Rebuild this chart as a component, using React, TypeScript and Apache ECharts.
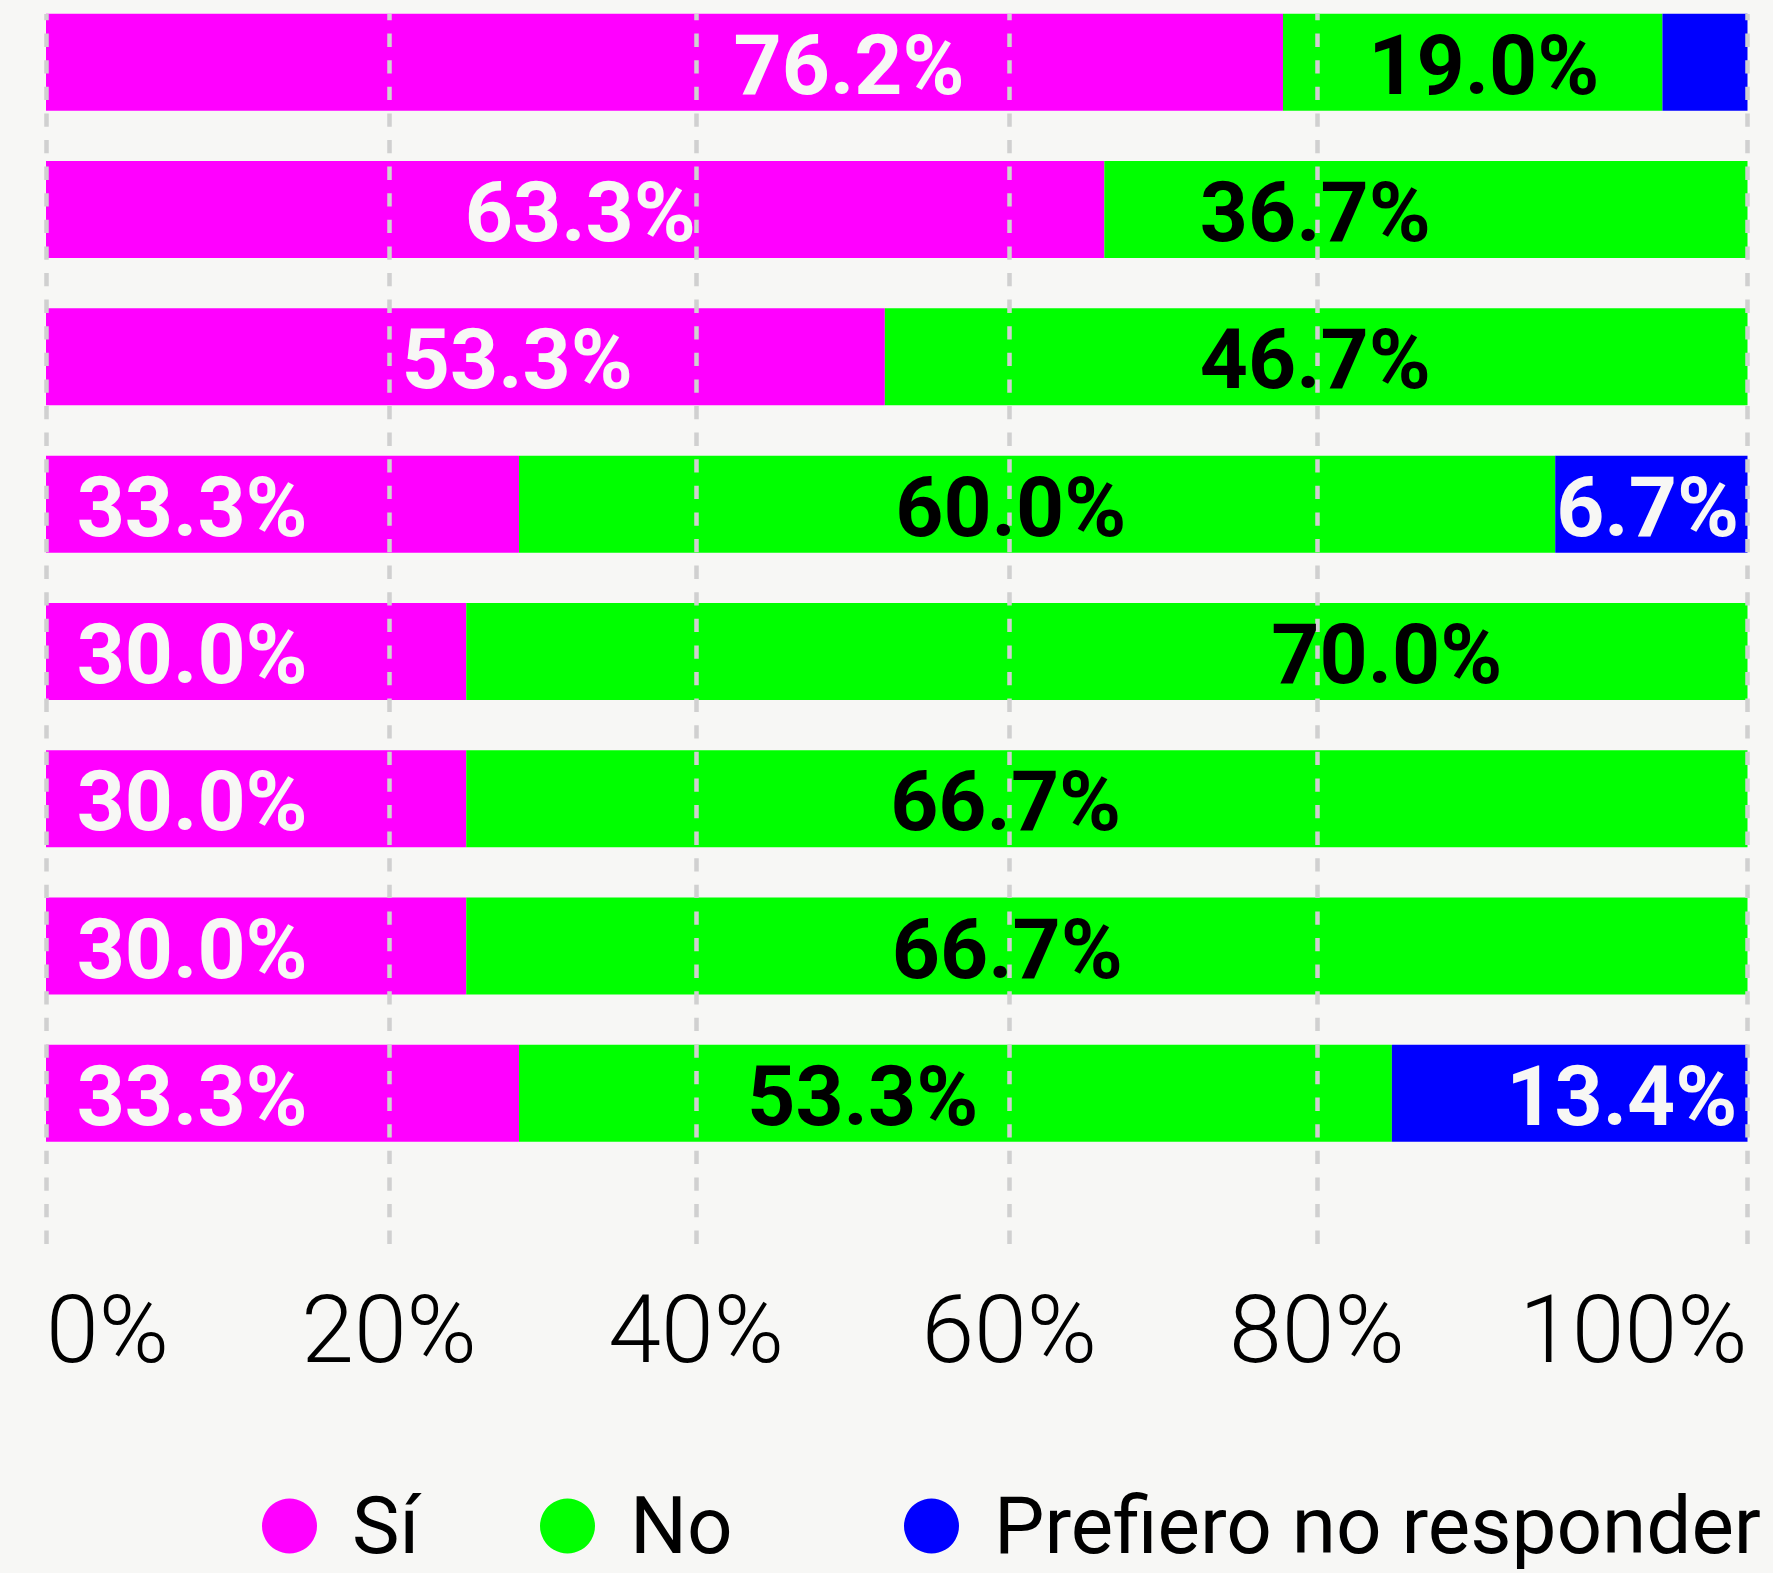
import React, { useEffect, useRef } from "react";
import * as echarts from "echarts";

// ---- data ----
const categories = ["Fila 1", "Fila 2", "Fila 3", "Fila 4", "Fila 5", "Fila 6", "Fila 7", "Fila 8"];
const seriesNames = ["Sí", "No", "Prefiero no responder"];

// bar lengths as drawn (share of the axis)
const siValues = [72.7, 62.2, 49.3, 27.8, 24.7, 24.7, 24.7, 27.8];
const noValues = [22.3, 37.8, 50.7, 60.9, 75.3, 75.3, 75.3, 51.3];
const nrValues = [5.0, 0, 0, 11.3, 0, 0, 0, 20.9];

// printed labels
const siLabels = ["76.2%", "63.3%", "53.3%", "33.3%", "30.0%", "30.0%", "30.0%", "33.3%"];
const noLabels = ["19.0%", "36.7%", "46.7%", "60.0%", "70.0%", "66.7%", "66.7%", "53.3%"];
const nrLabels = ["", "", "", "6.7%", "", "", "", "13.4%"];

// axis value where each printed label is anchored
const siLabelAt = [47.2, 31.4, 27.7, 1.8, 1.8, 1.8, 1.8, 1.8];
const noLabelAt = [84.5, 74.6, 74.6, 56.7, 78.8, 56.4, 56.5, 48.0];
const nrLabelAt = [99.5, 99.5, 99.5, 99.5, 99.5, 99.5, 99.5, 99.4];

// gridline positions and their tick labels
const tickValues = [0, 20.16, 38.21, 56.61, 74.69, 100];
const tickLabels = ["0%", "20%", "40%", "60%", "80%", "100%"];

const COLORS = ["#ff00ff", "#00ff00", "#0000ff"];
const BG = "#f7f7f5";
const WHITE = "#f7f7f5";
const BLACK = "#000000";
const FONT = "Roboto";

export default function App() {
  const ref = useRef<HTMLDivElement>(null);

  useEffect(() => {
    if (!ref.current) return;
    const chart = echarts.init(ref.current, null, { renderer: "svg" });

    const labelData: any[] = [];
    categories.forEach((_, i) => {
      const push = (text: string, at: number, align: string, color: string) => {
        if (!text) return;
        labelData.push({ value: [at, i], name: text, label: { align, color } });
      };
      push(siLabels[i], siLabelAt[i], siLabelAt[i] < 5 ? "left" : "center", WHITE);
      push(noLabels[i], noLabelAt[i], "center", BLACK);
      push(nrLabels[i], nrLabelAt[i], "right", WHITE);
    });

    const valueSets = [siValues, noValues, nrValues];
    const barSeries = seriesNames.map((name, k) => ({
      name,
      type: "bar",
      stack: "total",
      xAxisIndex: 0,
      yAxisIndex: 0,
      barWidth: 97,
      itemStyle: { color: COLORS[k] },
      emphasis: { disabled: true },
      data: valueSets[k],
    }));

    const legendBase = {
      orient: "horizontal",
      top: 1486,
      padding: 0,
      icon: "circle",
      itemWidth: 55,
      itemHeight: 55,
      selectedMode: false,
      textStyle: {
        fontSize: 80,
        lineHeight: 80,
        fontFamily: FONT,
        color: BLACK,
        padding: [0, 0, 0, 30],
      },
    };

    const option: any = {
      animation: false,
      backgroundColor: BG,
      legend: [
        { ...legendBase, data: [seriesNames[0]], left: 262 },
        { ...legendBase, data: [seriesNames[1]], left: 540 },
        { ...legendBase, data: [seriesNames[2]], left: 904 },
      ],
      grid: [
        { left: 46, right: 25.5, top: 62.3, height: 1031 },
        { left: 46, right: 25.5, top: 14, height: 1241 },
      ],
      xAxis: [
        { gridIndex: 0, type: "value", min: 0, max: 100, show: false },
        {
          gridIndex: 1,
          type: "value",
          min: 0,
          max: 100,
          z: 5,
          axisLine: { show: false },
          axisTick: { show: false, customValues: tickValues },
          splitLine: {
            show: true,
            lineStyle: { color: "#d0d0d0", width: 4.5, type: [13.3, 13.3], dashOffset: 7.3 },
          },
          axisLabel: {
            customValues: tickValues,
            formatter: (v: number) => {
              const idx = tickValues.findIndex((t) => Math.abs(t - v) < 1e-6);
              return idx >= 0 ? tickLabels[idx] : "";
            },
            margin: 74,
            verticalAlign: "middle",
            fontSize: 95,
            fontWeight: 300,
            fontFamily: FONT,
            color: BLACK,
            alignMinLabel: "left",
            alignMaxLabel: "right",
          },
        },
      ],
      yAxis: [
        {
          gridIndex: 0,
          type: "category",
          data: categories,
          inverse: true,
          boundaryGap: false,
          show: false,
        },
        { gridIndex: 1, type: "value", show: false },
      ],
      series: [
        ...barSeries,
        {
          name: "labels",
          type: "scatter",
          xAxisIndex: 0,
          yAxisIndex: 0,
          symbolSize: 0,
          z: 10,
          silent: true,
          itemStyle: { opacity: 1 },
          label: {
            show: true,
            position: "inside",
            formatter: "{b}",
            fontSize: 84,
            fontWeight: "bold",
            fontFamily: FONT,
            opacity: 1,
            offset: [0, 3],
          },
          data: labelData,
        },
      ],
    };

    chart.setOption(option);
    return () => chart.dispose();
  }, []);

  return (
    <div
      ref={ref}
      style={{ position: "fixed", left: 0, top: 0, width: 1773, height: 1573, background: BG }}
    />
  );
}
